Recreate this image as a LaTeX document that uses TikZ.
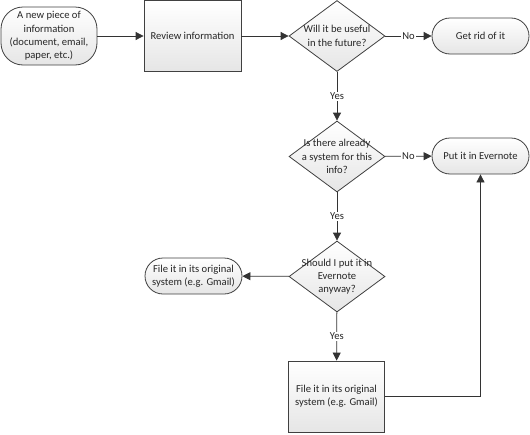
\documentclass[tikz,border=0pt]{standalone}
\usepackage{fontspec}
\setmainfont{Carlito}
\usetikzlibrary{shapes.geometric,arrows.meta,positioning}
\tikzset{
  shapebase/.style={draw=black!75, line width=0.8pt, top color=white, bottom color=black!10, inner sep=0pt},
  terminal/.style={shapebase, rectangle, rounded corners=18pt, align=center},
  procbox/.style={shapebase, rectangle, align=center},
  decision/.style={shapebase, diamond, minimum width=96pt, minimum height=71pt},
  dtext/.style={align=center, inner sep=0pt},
  conn/.style={draw=black!80, line width=0.8pt, -{Triangle[length=8pt,width=8pt]}},
  lbl/.style={fill=white, inner sep=1pt}
}
\begin{document}
\begin{tikzpicture}[x=1pt,y=-1pt, font=\fontsize{10.6}{13.3}\selectfont, text=black!85]
\useasboundingbox (0,0) rectangle (530,434);
\node[terminal, rounded corners=22pt, minimum width=96pt, minimum height=58pt] (start) at (49,36) {A new piece of\\information\\(document, email,\\paper, etc.)};
\node[procbox, minimum width=97pt, minimum height=71pt] (review) at (192.5,36) {Review information};
\node[decision] (d1) at (337,36) {};
\node[dtext] (d1t) at (d1) {Will it be useful\\in the future?};
\node[terminal, minimum width=97pt, minimum height=36pt] (rid) at (480.5,36) {Get rid of it};
\node[decision] (d2) at (337,156.5) {};
\node[dtext] (d2t) at (d2) {Is there already\\a system for this\\info?};
\node[terminal, minimum width=97pt, minimum height=36pt] (ever) at (480.5,156) {Put it in Evernote};
\node[decision] (d3) at (337,276.5) {};
\node[dtext] (d3t) at (d3) {Should I put it in\\Evernote\\anyway?};
\node[terminal, minimum width=97pt, minimum height=36pt] (fileleft) at (193.5,276) {File it in its original\\system (e.g. Gmail)};
\node[procbox, minimum width=96pt, minimum height=71pt] (filebox) at (336.5,396.5) {File it in its original\\system (e.g. Gmail)};
\draw[conn] (start) -- (review);
\draw[conn] (review) -- (d1);
\draw[conn] (d1) -- node[lbl] {No} (rid);
\draw[conn] (d1) -- node[lbl] {Yes} (d2);
\draw[conn] (d2) -- node[lbl] {No} (ever);
\draw[conn] (d2) -- node[lbl] {Yes} (d3);
\draw[conn] (d3) -- (fileleft);
\draw[conn] (d3) -- node[lbl] {Yes} (filebox);
\draw[conn] (filebox.east) -| (ever.south);
\end{tikzpicture}
\end{document}
